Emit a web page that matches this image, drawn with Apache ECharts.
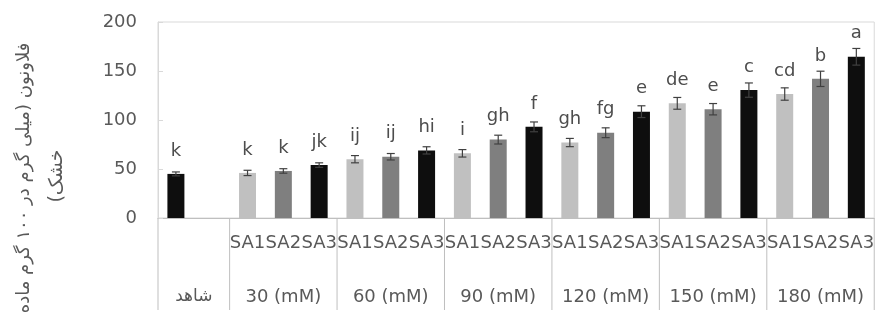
<!DOCTYPE html>
<html>
<head>
<meta charset="utf-8">
<script src="https://cdn.jsdelivr.net/npm/echarts@6/dist/echarts.min.js"></script>
<style>html,body{margin:0;padding:0;background:#fff;}#c{width:877px;height:327px;}</style>
</head>
<body>
<div id="c"></div>
<script>
// ---- data ----
var categories = ['', '', 'SA1','SA2','SA3', 'SA1','SA2','SA3', 'SA1','SA2','SA3', 'SA1','SA2','SA3', 'SA1','SA2','SA3', 'SA1','SA2','SA3'];
var kinds      = ['C', '', 'SA1','SA2','SA3', 'SA1','SA2','SA3', 'SA1','SA2','SA3', 'SA1','SA2','SA3', 'SA1','SA2','SA3', 'SA1','SA2','SA3'];
var values     = [45, null, 46, 48, 54, 60, 62.5, 69, 66, 80, 93, 77, 87, 108.5, 117, 111, 130.5, 126.5, 142, 164.5];
var errors     = [2, null, 2.7, 2.3, 2.3, 3.7, 3.3, 3.7, 3.8, 4.5, 5, 4.2, 5, 6, 6, 5.8, 7.3, 6.3, 7.8, 8.5];
var letters    = ['k', '', 'k','k','jk', 'ij','ij','hi', 'i','gh','f', 'gh','fg','e', 'de','e','c', 'cd','b','a'];
var groups     = ['شاهد', '30 (mM)', '60 (mM)', '90 (mM)', '120 (mM)', '150 (mM)', '180 (mM)'];
var groupSpans = [2, 3, 3, 3, 3, 3, 3];
var yTicks     = {min: 0, max: 200, interval: 50};
var yTitle1    = 'فلاونون (میلی گرم در ۱۰۰ گرم ماده';
var yTitle2    = '\u200Fخشک)\u200F';

// ---- styles ----
var colors = {C: '#0e0e0e', SA1: '#c0c0c0', SA2: '#7f7f7f', SA3: '#0e0e0e'};
var textColor = '#595959';
var fontFam = '"DejaVu Sans", sans-serif';

var barData = values.map(function (v, i) {
  return {value: v, itemStyle: {color: colors[kinds[i]] || '#000'}};
});
var errData = [];
values.forEach(function (v, i) { if (v != null) errData.push([i, v, errors[i]]); });

var groupData = [];
var start = 0;
groups.forEach(function (g, i) {
  groupData.push([start, 0, groupSpans[i], g, i === groups.length - 1 ? 1 : 0]);
  start += groupSpans[i];
});

var chart = echarts.init(document.getElementById('c'));
chart.setOption({
  animation: false,
  grid: {left: 158, top: 22, width: 720, height: 196, show: true, borderColor: '#d9d9d9', borderWidth: 1},
  xAxis: {
    type: 'category',
    data: categories,
    axisLine: {lineStyle: {color: '#bfbfbf'}},
    axisTick: {show: false},
    axisLabel: {interval: 0, color: textColor, fontFamily: fontFam, fontSize: 18, margin: 16}
  },
  yAxis: {
    type: 'value',
    min: yTicks.min, max: yTicks.max, interval: yTicks.interval,
    axisLine: {show: true, lineStyle: {color: '#d9d9d9'}},
    axisTick: {show: true, inside: true, length: 5, lineStyle: {color: '#d9d9d9'}},
    splitLine: {show: false},
    axisLabel: {color: textColor, fontFamily: fontFam, fontSize: 18, margin: 21}
  },
  graphic: [{
    type: 'text', x: 24, y: 178, rotation: Math.PI / 2,
    style: {text: yTitle1, align: 'center', verticalAlign: 'middle',
            fill: textColor, font: '18px "DejaVu Sans", sans-serif'}
  }, {
    type: 'text', x: 57, y: 176, rotation: Math.PI / 2,
    style: {text: yTitle2, align: 'center', verticalAlign: 'middle',
            fill: textColor, font: '19px "DejaVu Sans", sans-serif'}
  }],
  series: [{
    type: 'bar',
    data: barData,
    barWidth: 17,
    label: {
      show: true, position: 'top', distance: 14,
      color: '#4d4d4d', fontFamily: fontFam, fontSize: 18,
      formatter: function (p) { return letters[p.dataIndex]; }
    }
  }, {
    type: 'custom',
    data: errData,
    encode: {x: 0, y: 1},
    z: 5,
    renderItem: function (params, api) {
      var x = api.value(0), v = api.value(1), e = api.value(2);
      var hi = api.coord([x, v + e]);
      var lo = api.coord([x, v - e]);
      var w = 4;
      var st = {stroke: '#404040', lineWidth: 1.2};
      return {type: 'group', children: [
        {type: 'line', shape: {x1: hi[0], y1: hi[1], x2: lo[0], y2: lo[1]}, style: st},
        {type: 'line', shape: {x1: hi[0] - w, y1: hi[1], x2: hi[0] + w, y2: hi[1]}, style: st},
        {type: 'line', shape: {x1: lo[0] - w, y1: lo[1], x2: lo[0] + w, y2: lo[1]}, style: st}
      ]};
    }
  }, {
    type: 'custom',
    data: groupData,
    encode: {x: 0, y: 1},
    clip: false,
    silent: true,
    renderItem: function (params, api) {
      var s = api.value(0), span = api.value(2), isLast = api.value(4);
      var name = groups[params.dataIndex];
      var band = api.size([1, 0])[0];
      var p = api.coord([s, 0]);
      var left = p[0] - band / 2;
      var right = left + span * band;
      var y0 = p[1];
      var st = {stroke: '#bfbfbf', lineWidth: 1};
      var kids = [
        {type: 'line', shape: {x1: left, y1: y0, x2: left, y2: y0 + 92}, style: st},
        {type: 'text', x: (left + right) / 2, y: y0 + 79,
         style: {text: name, align: 'center', verticalAlign: 'middle', fill: textColor,
                 font: (params.dataIndex === 0 ? '17px' : '18px') + ' ' + fontFam}}
      ];
      if (isLast) kids.push({type: 'line', shape: {x1: right, y1: y0, x2: right, y2: y0 + 92}, style: st});
      return {type: 'group', children: kids};
    }
  }]
});
</script>
</body>
</html>
